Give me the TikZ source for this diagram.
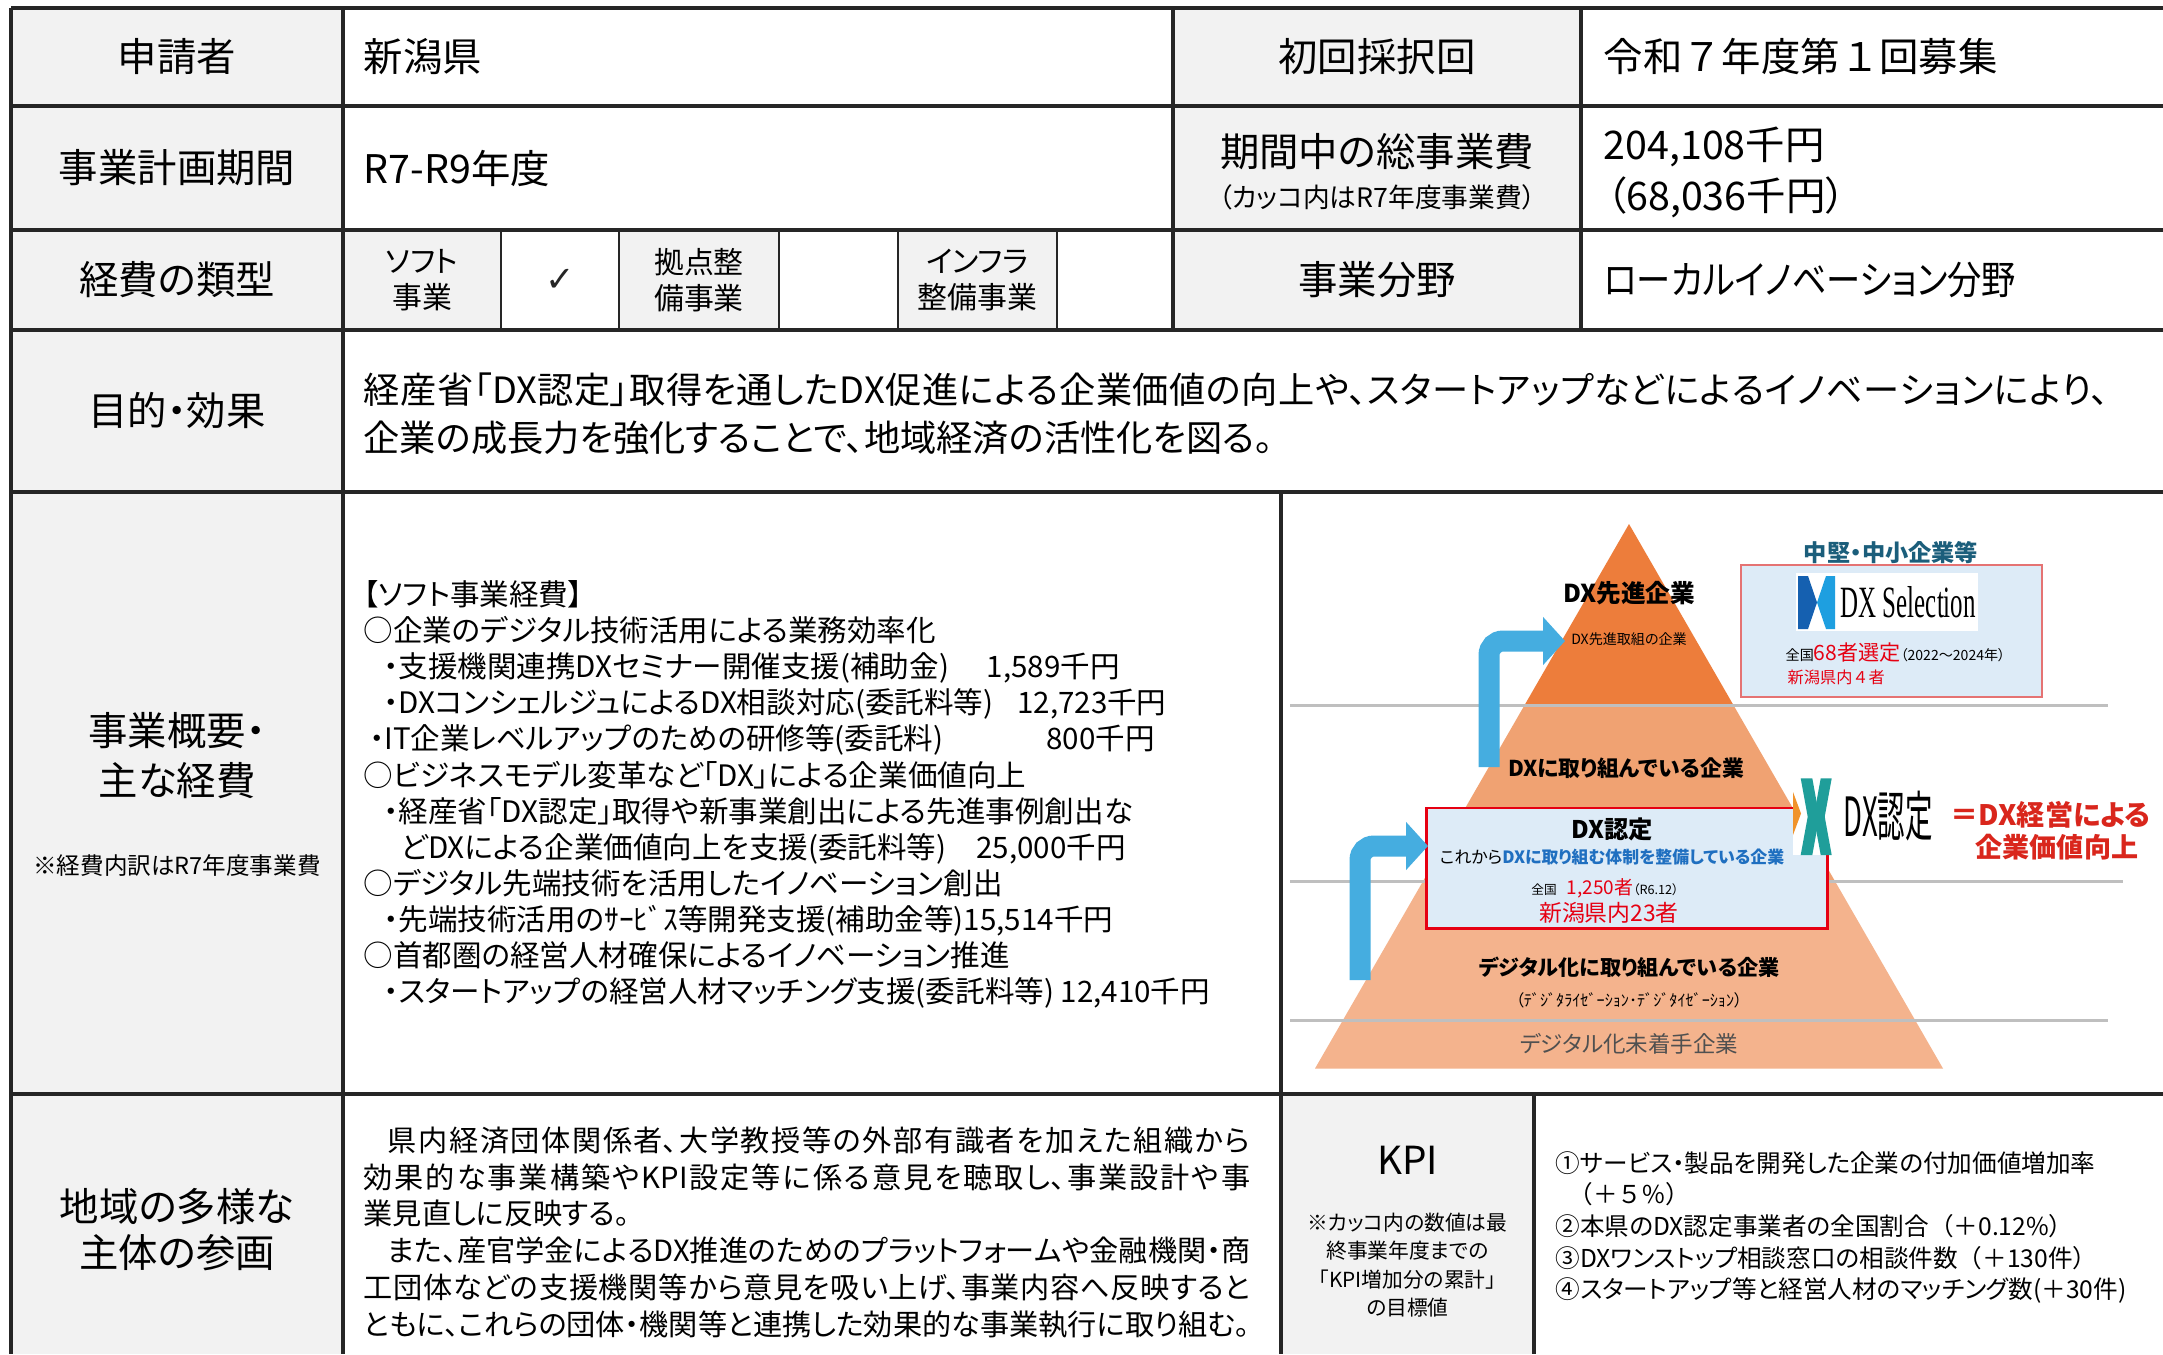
\documentclass[tikz,border=0pt]{standalone}
\usepackage{fontspec}
\setmainfont{Noto Sans CJK JP}[RawFeature=+palt]
\newfontfamily\fullwidth{Noto Sans CJK JP}
\newfontfamily\narrowfont{Noto Sans CJK JP}[RawFeature=+palt, FakeStretch=0.87]
\newfontfamily\symfont{DejaVu Sans}
\newfontfamily\selfont{Liberation Serif}
\usetikzlibrary{arrows.meta}

\definecolor{cellgray}{HTML}{F2F2F2}
\definecolor{gridline}{HTML}{262626}
\definecolor{pyrtop}{HTML}{ED7D3B}
\definecolor{pyrmid}{HTML}{F0A272}
\definecolor{pyrlow}{HTML}{F4B38D}
\definecolor{boxblue}{HTML}{DDEBF7}
\definecolor{dxred}{HTML}{E60012}
\definecolor{sloganred}{HTML}{D9261C}
\definecolor{arrowblue}{HTML}{45ADE0}
\definecolor{linegray}{HTML}{BFBFBF}
\definecolor{headteal}{HTML}{1B5E7B}
\definecolor{midblue}{HTML}{1F6FC0}
\definecolor{selblue}{HTML}{1560B0}
\definecolor{selcyan}{HTML}{1E9FE0}
\definecolor{selborder}{HTML}{E57373}
\definecolor{logoteal}{HTML}{1F9E9A}
\definecolor{logoorange}{HTML}{F0932B}
\definecolor{basegray}{HTML}{505050}

\tikzset{
  tableline/.style={draw=gridline, line width=0.9pt},
  subline/.style={draw=gridline, line width=0.7pt},
  sepline/.style={draw=linegray, line width=0.9pt},
  lab/.style={inner sep=0pt, font=\fontsize{11.2}{13}\selectfont},
  val/.style={anchor=west, inner sep=0pt, font=\fontsize{11.2}{13}\selectfont},
  cellsmall/.style={inner sep=0pt, align=center, font=\fontsize{8.5}{10.2}\selectfont},
  pyrtext/.style={inner sep=0pt},
  flowarrow/.style={draw=arrowblue, line width=0.21cm, rounded corners=0.14cm,
    -{Triangle[width=0.47cm,length=0.22cm]}}
}

\begin{document}
\begin{tikzpicture}[x=0.01cm, y=-0.01cm]
\useasboundingbox (0,0) rectangle (2163,1354);
\fill[white] (0,0) rectangle (2163,1354);

\fill[cellgray] (11,8) rectangle (343,1354);
\fill[cellgray] (1173,8) rectangle (1581,330);
\foreach \a/\b in {343/501,619/779,898/1057}
  \fill[cellgray] (\a,230) rectangle (\b,330);
\fill[cellgray] (1281,1094) rectangle (1534,1354);

\foreach \y in {8,106,230,330,492,1094}
  \draw[tableline] (11,\y) -- (2163,\y);
\draw[tableline] (11,8) -- (11,1354);
\draw[tableline] (343,8) -- (343,1354);
\foreach \x in {1173,1581}
  \draw[tableline] (\x,8) -- (\x,330);
\foreach \x in {501,619,779,898,1057}
  \draw[subline] (\x,230) -- (\x,330);
\draw[tableline] (1281,492) -- (1281,1354);
\draw[tableline] (1534,1094) -- (1534,1354);

\node (applicant) at (177,57) [lab] {申請者};
\node (period) at (177,168) [lab] {事業計画期間};
\node (costtype) at (177,280) [lab] {経費の類型};
\node (purpose) at (177,411) [lab] {目的・効果};
\node (outline1) at (177,731) [lab] {事業概要・};
\node (outline2) at (177,781) [lab] {主な経費};
\node (costnote) at (177,866) [inner sep=0pt, font=\fontsize{6.7}{8}\selectfont] {※経費内訳はR7年度事業費};
\node (actors1) at (177,1207) [lab] {地域の多様な};
\node (actors2) at (177,1253) [lab] {主体の参画};

\node (firstround) at (1377,57) [lab] {初回採択回};
\node (totalcost) at (1377,152) [lab] {期間中の総事業費};
\node (totalnote) at (1377,197) [inner sep=0pt, font=\fontsize{7.6}{9}\selectfont] {（カッコ内はR7年度事業費）};
\node (field) at (1377,280) [lab] {事業分野};

\node (applicantval) at (363,57) [val] {新潟県};
\node (periodval) at (363,168) [val] {R7-R9年度};
\node (roundval) at (1603,57) [val] {\fullwidth 令和７年度第１回募集};
\node (totalval) at (1603,147) [val] {204,108千円};
\node (yearval) at (1606,197) [val] {（68,036千円）};
\node (fieldval) at (1603,280) [val] {\narrowfont ローカルイノベーション分野};

\node (soft) at (422,280) [cellsmall] {ソフト\\事業};
\node (softcheck) at (560,280) [inner sep=0pt, text=gridline, font=\symfont\fontsize{10}{12}\selectfont] {✓};
\node (hub) at (699,280) [cellsmall] {拠点整\\備事業};
\node (infra) at (977.5,280) [cellsmall] {インフラ\\整備事業};

\node (purposetext) at (363,414) [anchor=west, inner sep=0pt, text width=17.44cm, align=justify, font=\fontsize{10.3}{13.7}\selectfont]
  {\XeTeXlinebreaklocale "ja"\XeTeXlinebreakskip=0pt plus 1pt\noindent
   経産省「DX認定」取得を通したDX促進による企業価値の向上や、スタートアップなどによるイノベーションにより、\linebreak
   企業の成長力を強化することで、地域経済の活性化を図る。};

\node (costlist) at (363,794.5) [anchor=west, inner sep=0pt, align=left, font=\fontsize{8.4}{10.27}\selectfont]
  {【ソフト事業経費】\\
   ○企業のデジタル技術活用による業務効率化\\
   \hspace*{0.2cm}・支援機関連携DXセミナー開催支援(補助金)\hspace{0.38cm}1,589千円\\
   \hspace*{0.2cm}・DXコンシェルジュによるDX相談対応(委託料等)\hspace{0.24cm}12,723千円\\
   \hspace*{0.06cm}・IT企業レベルアップのための研修等(委託料)\hspace{1.03cm}800千円\\
   ○ビジネスモデル変革など「DX」による企業価値向上\\
   \hspace*{0.2cm}・経産省「DX認定」取得や新事業創出による先進事例創出な\\
   \hspace*{0.37cm}どDXによる企業価値向上を支援(委託料等)\hspace{0.3cm}25,000千円\\
   ○デジタル先端技術を活用したイノベーション創出\\
   \hspace*{0.2cm}・先端技術活用のｻｰﾋﾞｽ等開発支援(補助金等)15,514千円\\
   ○首都圏の経営人材確保によるイノベーション推進\\
   \hspace*{0.2cm}・スタートアップの経営人材マッチング支援(委託料等) 12,410千円};

\node (partytext) at (363,1232.5) [anchor=west, inner sep=0pt, text width=8.86cm, align=justify, font=\fontsize{8.3}{10.5}\selectfont]
  {\XeTeXlinebreaklocale "ja"\XeTeXlinebreakskip=0pt plus 1pt\noindent
   \hspace*{0.24cm}県内経済団体関係者、大学教授等の外部有識者を加えた組織から\linebreak
   効果的な事業構築やKPI設定等に係る意見を聴取し、事業設計や事\linebreak
   業見直しに反映する。\par\parfillskip=0pt
   \noindent\hspace*{0.24cm}また、産官学金によるDX推進のためのプラットフォームや金融機関・商\linebreak
   工団体などの支援機関等から意見を吸い上げ、事業内容へ反映すると\linebreak
   ともに、これらの団体・機関等と連携した効果的な事業執行に取り組む。};

\node (kpititle) at (1407.5,1160) [inner sep=0pt, font=\fontsize{11}{13}\selectfont] {KPI};
\node (kpinote) at (1407.5,1265) [inner sep=0pt, align=center, font=\fontsize{5.9}{8.1}\selectfont]
  {※カッコ内の数値は最\\終事業年度までの\\「KPI増加分の累計」\\の目標値};
\node (kpilist) at (1555,1227.5) [anchor=west, inner sep=0pt, align=left, font=\fontsize{7}{9}\selectfont]
  {①サービス・製品を開発した企業の付加価値増加率\\
   \hspace*{0.13cm}{\fullwidth （＋５\%）}\\
   ②本県のDX認定事業者の全国割合{\fullwidth （}＋0.12\%{\fullwidth ）}\\
   ③DXワンストップ相談窓口の相談件数{\fullwidth （}＋130件{\fullwidth ）}\\
   ④スタートアップ等と経営人材のマッチング数(＋30件)};

\coordinate (apex) at (1629,524);
\coordinate (baseleft) at (1315,1068.5);
\coordinate (baseright) at (1943,1068.5);
\begin{scope}
\clip (apex) -- (baseleft) -- (baseright) -- cycle;
\fill[pyrlow] (1300,881.6) rectangle (1960,1070);
\fill[pyrmid] (1300,705.3) rectangle (1960,881.6);
\fill[pyrtop] (1300,520) rectangle (1960,705.3);
\end{scope}
\draw[sepline] (1290,705.3) -- (2108,705.3);
\draw[sepline] (1290,881.6) -- (2123,881.6);
\draw[sepline] (1290,1020.6) -- (2108,1020.6);

\node (topname) at (1629,593) [pyrtext, font=\bfseries\fontsize{7}{8}\selectfont] {DX先進企業};
\node (topsub) at (1629,639) [pyrtext, font=\fontsize{4}{5}\selectfont] {DX先進取組の企業};
\node (midname) at (1626,768) [pyrtext, font=\bfseries\fontsize{6.2}{7}\selectfont] {DXに取り組んでいる企業};
\node (lowname) at (1629,967) [pyrtext, font=\bfseries\fontsize{6}{7}\selectfont] {デジタル化に取り組んでいる企業};
\node (lowsub) at (1629,1000) [pyrtext, font=\fontsize{4.6}{5}\selectfont] {（ﾃﾞｼﾞﾀﾗｲｾﾞｰｼｮﾝ･ﾃﾞｼﾞﾀｲｾﾞｰｼｮﾝ）};
\node (basename) at (1629,1044) [pyrtext, text=basegray, font=\fontsize{6.4}{7}\selectfont] {デジタル化未着手企業};

\node (ninteibox) at (1627,868.3) [draw=dxred, line width=0.8pt, fill=boxblue, minimum width=4cm, minimum height=1.205cm] {};
\node (ninteititle) at (1612,829) [pyrtext, font=\bfseries\fontsize{6.9}{8}\selectfont] {DX認定};
\node (ninteisub) at (1612,857) [pyrtext, font=\fontsize{4.8}{6}\selectfont] {これから\textcolor{midblue}{\bfseries DXに取り組む体制を整備している企業}};
\node (ninteinum) at (1605,888) [pyrtext] {{\fontsize{3.6}{4}\selectfont 全国}\hspace{0.1cm}{\color{dxred}\fontsize{5.4}{6}\selectfont 1,250者}{\fontsize{3.6}{4}\selectfont （R6.12）}};
\node (nintiepref) at (1609,913) [pyrtext, text=dxred, font=\fontsize{6.5}{7}\selectfont] {新潟県内23者};

\draw[flowarrow] (1489,767) |- (1565,641);
\draw[flowarrow] (1360,980) |- (1428,846);

\node (selbox) at (1891.5,631) [draw=selborder, line width=0.5pt, fill=boxblue, minimum width=3.01cm, minimum height=1.32cm] {};
\node (selhead) at (1891,553) [pyrtext, text=headteal, font=\bfseries\fontsize{6.6}{7}\selectfont] {中堅・中小企業等};
\node (sellogo) at (1887,602) [fill=white, minimum width=1.82cm, minimum height=0.58cm] {};
\fill[selblue] (1798,576) -- (1808,576) -- (1817,602.5) -- (1808,629) -- (1798,629) -- cycle;
\fill[selcyan] (1835,576) -- (1826,576) -- (1817,602.5) -- (1826,629) -- (1835,629) -- cycle;
\node (seltext) at (1840,602) [anchor=west, inner sep=0pt] {\resizebox{1.35cm}{0.31cm}{\selfont DX Selection}};
\node (selcount) at (1785,653) [anchor=west, inner sep=0pt] {{\fontsize{4}{4}\selectfont 全国}{\color{dxred}\fontsize{6}{6}\selectfont 68者選定}{\fontsize{4}{4}\selectfont （2022〜2024年）}};
\node (selpref) at (1787,677) [anchor=west, inner sep=0pt, text=dxred, font=\fullwidth\fontsize{4.6}{5}\selectfont] {新潟県内４者};

\node (ninteilogo) at (1864,816.5) [fill=white, minimum width=1.42cm, minimum height=0.77cm] {};
\fill[logoorange] (1793,792) -- (1801,813.5) -- (1793,835) -- cycle;
\fill[logoteal] (1800.7,778.3) -- (1812.3,778.3) -- (1819.3,816.7) -- (1812.3,855) -- (1800.7,855) -- (1807.7,816.7) -- cycle;
\fill[logoteal] (1831.7,778.3) -- (1820.7,778.3) -- (1813.7,816.7) -- (1820.7,855) -- (1831.7,855) -- (1824.7,816.7) -- cycle;
\node (ninteilogotext) at (1843,816.5) [anchor=west, inner sep=0pt] {\resizebox*{0.89cm}{0.5cm}{DX認定}};

\node (slogan1) at (1950,815) [anchor=west, inner sep=0pt, text=sloganred, font=\bfseries\fontsize{8}{9}\selectfont] {＝DX経営による};
\node (slogan2) at (1975,847) [anchor=west, inner sep=0pt, text=sloganred, font=\bfseries\fontsize{7.7}{9}\selectfont] {企業価値向上};

\end{tikzpicture}
\end{document}
